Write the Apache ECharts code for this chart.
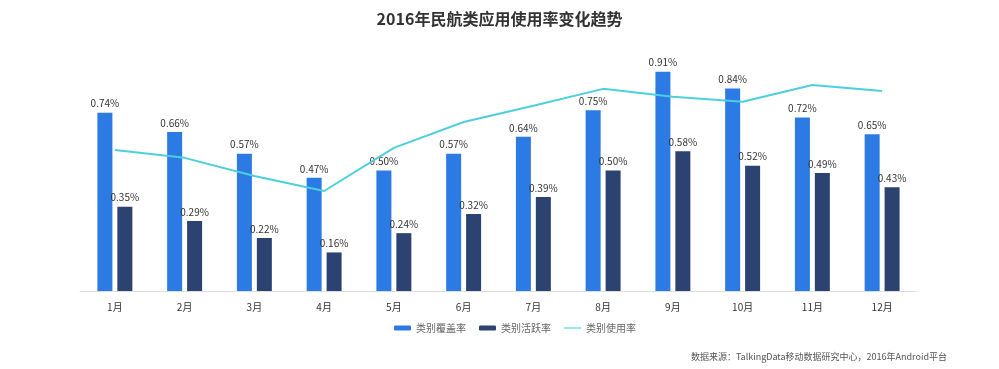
<!DOCTYPE html>
<html>
<head>
<meta charset="utf-8">
<script src="https://cdn.jsdelivr.net/npm/echarts@6/dist/echarts.min.js"></script>
<style>html,body{margin:0;padding:0;background:#fff;}#c{width:999px;height:369px;}</style>
</head>
<body>
<div id="c"></div>
<script>
const categories = ['1月','2月','3月','4月','5月','6月','7月','8月','9月','10月','11月','12月'];
const coverage = [0.74,0.66,0.57,0.47,0.50,0.57,0.64,0.75,0.91,0.84,0.72,0.65];
const active = [0.35,0.29,0.22,0.16,0.24,0.32,0.39,0.50,0.58,0.52,0.49,0.43];
const usage = [0.468,0.442,0.382,0.332,0.475,0.561,0.615,0.671,0.645,0.628,0.684,0.664];
const seriesNames = ['类别覆盖率','类别活跃率','类别使用率'];
const titleText = '2016年民航类应用使用率变化趋势';
const sourceText = '数据来源：TalkingData移动数据研究中心，2016年Android平台';

const font = '"Noto Sans CJK SC", "Noto Sans", sans-serif';
const chart = echarts.init(document.getElementById('c'));
const lbl = {show:true, position:'top', fontSize:10, color:'#333', fontFamily:font, distance:4,
  formatter: p => p.value.toFixed(2) + '%'};
chart.setOption({
  animation:false,
  backgroundColor:'#fff',
  title:{text:titleText, left:'center', top:6, textStyle:{fontSize:16, fontWeight:'bold', color:'#333', fontFamily:font}},
  legend:{bottom:31, left:389, itemWidth:17, itemHeight:5, itemGap:13,
    textStyle:{fontSize:10, color:'#666', fontFamily:font},
    data:[{name:seriesNames[0]},{name:seriesNames[1]},{name:seriesNames[2], icon:'path://M0,0 L20,0 L20,1.3 L0,1.3 Z'}]},
  grid:{left:80, right:82, top:50, bottom:78},
  xAxis:{type:'category', data:categories, axisTick:{show:false},
    axisLine:{lineStyle:{color:'#ddd'}},
    axisLabel:{color:'#333', fontSize:10, margin:11, fontFamily:font}},
  yAxis:[{type:'value', min:0, max:1, show:false, splitLine:{show:false}},
         {type:'value', min:0, max:0.8, show:false, splitLine:{show:false}}],
  graphic:[{type:'text', right:52, top:352, style:{text:sourceText, fontSize:9, fill:'#555', fontFamily:font}}],
  series:[
    {name:seriesNames[0], type:'bar', data:coverage, barWidth:15, barGap:'33%', itemStyle:{color:'#2C7BE5'}, label:lbl},
    {name:seriesNames[1], type:'bar', data:active, barWidth:15, itemStyle:{color:'#2C4270'}, label:lbl},
    {name:seriesNames[2], type:'line', yAxisIndex:1, data:usage, symbol:'none', lineStyle:{color:'#4DCFDC', width:2}, itemStyle:{color:'#4DCFDC'}}
  ]
});
</script>
</body>
</html>
